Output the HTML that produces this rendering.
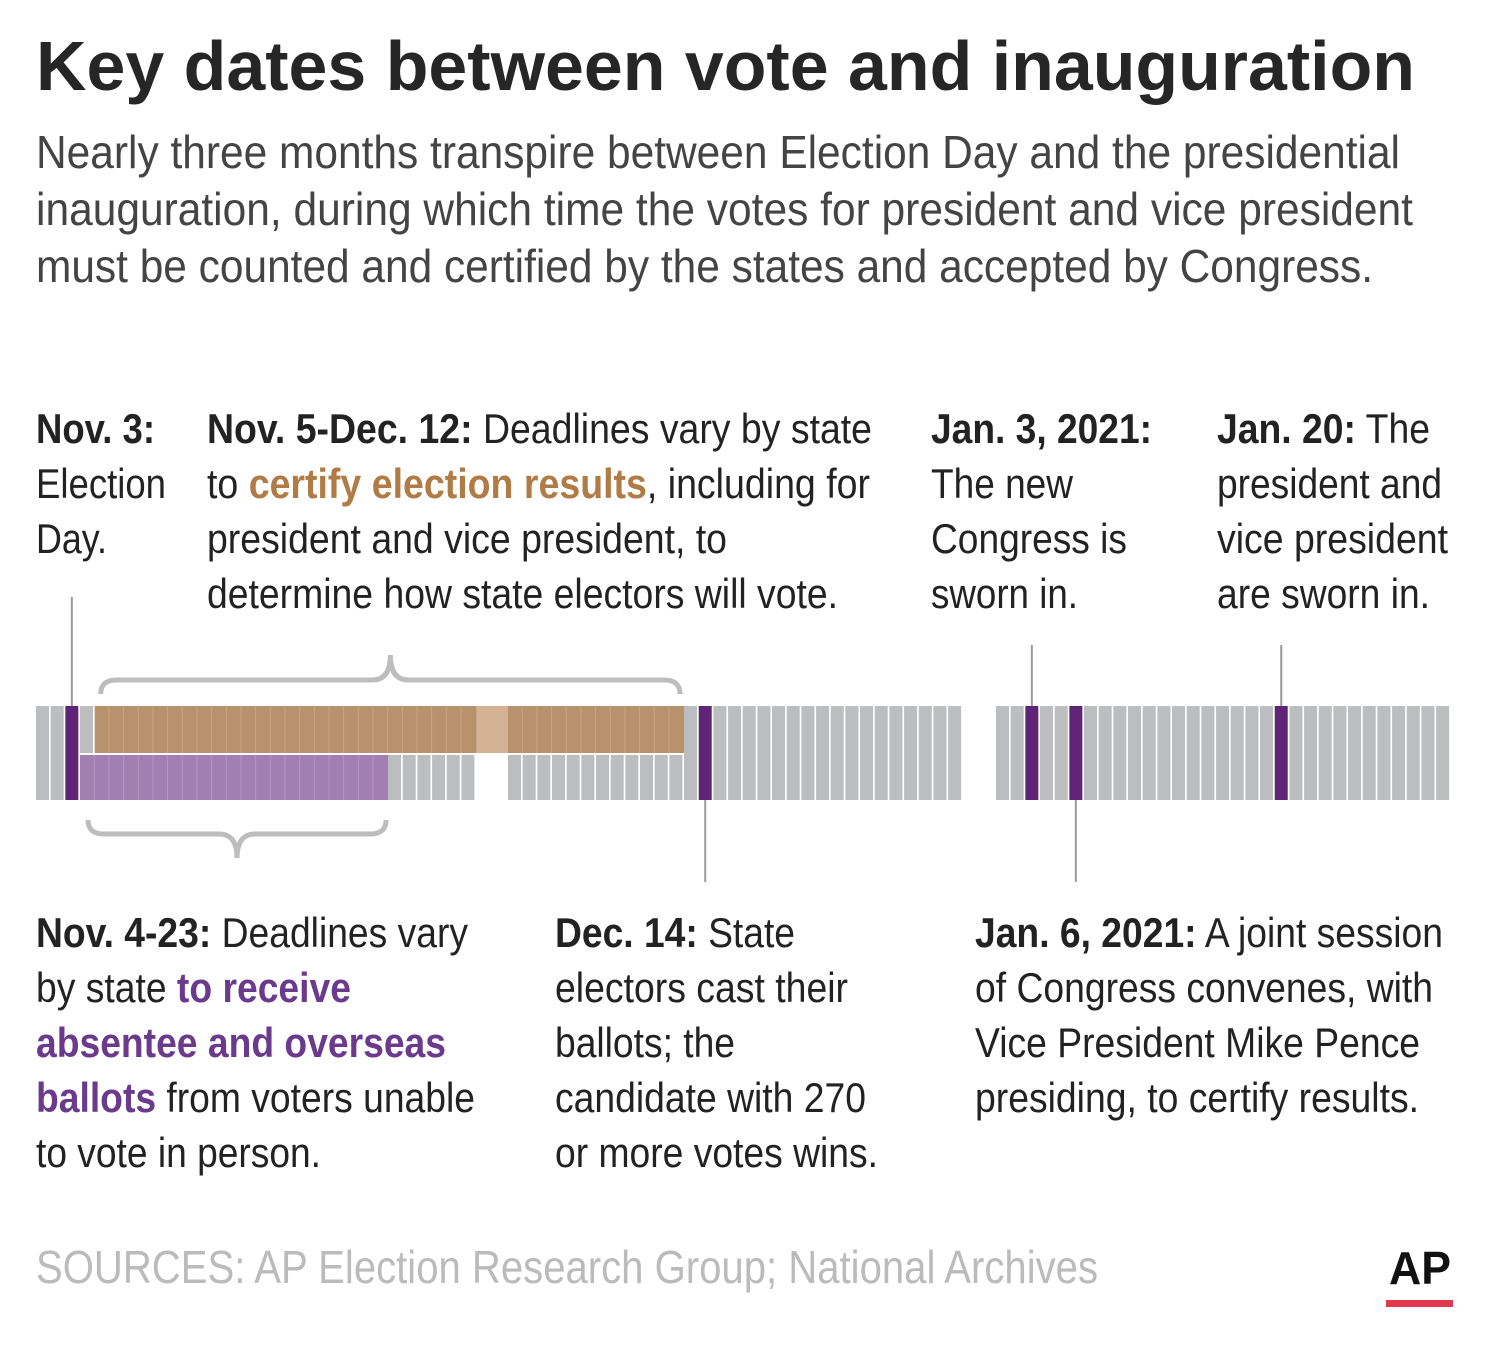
<!DOCTYPE html>
<html><head><meta charset="utf-8"><style>
html,body{margin:0;padding:0;background:#fff;}
svg{display:block;font-family:"Liberation Sans",sans-serif;}
.t{fill:#222;font-size:42px;}
.b{font-weight:bold;}
</style></head><body>
<svg id="chart" width="1500" height="1348" viewBox="0 0 1500 1348" xmlns="http://www.w3.org/2000/svg">
<text x="36" y="90" font-size="70" font-weight="bold" fill="#262626" textLength="1379" lengthAdjust="spacingAndGlyphs">Key dates between vote and inauguration</text>
<g font-size="46" fill="#444">
<text x="36" y="168" textLength="1364" lengthAdjust="spacingAndGlyphs">Nearly three months transpire between Election Day and the presidential</text>
<text x="36" y="225" textLength="1377" lengthAdjust="spacingAndGlyphs">inauguration, during which time the votes for president and vice president</text>
<text x="36" y="282" textLength="1337" lengthAdjust="spacingAndGlyphs">must be counted and certified by the states and accepted by Congress.</text>
</g>
<g id="timeline"></g>
<g class="t">
<text x="36" y="443" class="b" textLength="119" lengthAdjust="spacingAndGlyphs">Nov. 3:</text>
<text x="36" y="498" textLength="130" lengthAdjust="spacingAndGlyphs">Election</text>
<text x="36" y="553" textLength="71" lengthAdjust="spacingAndGlyphs">Day.</text>
</g>
<g class="t">
<text x="207" y="443" textLength="665" lengthAdjust="spacingAndGlyphs"><tspan class="b">Nov. 5-Dec. 12:</tspan> Deadlines vary by state</text>
<text x="207" y="498" textLength="663" lengthAdjust="spacingAndGlyphs">to <tspan class="b" fill="#b07b45">certify election results</tspan>, including for</text>
<text x="207" y="553" textLength="520" lengthAdjust="spacingAndGlyphs">president and vice president, to</text>
<text x="207" y="608" textLength="631" lengthAdjust="spacingAndGlyphs">determine how state electors will vote.</text>
</g>
<g class="t">
<text x="931" y="443" class="b" textLength="221" lengthAdjust="spacingAndGlyphs">Jan. 3, 2021:</text>
<text x="931" y="498" textLength="142" lengthAdjust="spacingAndGlyphs">The new</text>
<text x="931" y="553" textLength="196" lengthAdjust="spacingAndGlyphs">Congress is</text>
<text x="931" y="608" textLength="147" lengthAdjust="spacingAndGlyphs">sworn in.</text>
</g>
<g class="t">
<text x="1217" y="443" textLength="213" lengthAdjust="spacingAndGlyphs"><tspan class="b">Jan. 20:</tspan> The</text>
<text x="1217" y="498" textLength="225" lengthAdjust="spacingAndGlyphs">president and</text>
<text x="1217" y="553" textLength="231" lengthAdjust="spacingAndGlyphs">vice president</text>
<text x="1217" y="608" textLength="213" lengthAdjust="spacingAndGlyphs">are sworn in.</text>
</g>
<g class="t">
<text x="36" y="947" textLength="432" lengthAdjust="spacingAndGlyphs"><tspan class="b">Nov. 4-23:</tspan> Deadlines vary</text>
<text x="36" y="1002" textLength="315" lengthAdjust="spacingAndGlyphs">by state <tspan class="b" fill="#6b3a8c">to receive</tspan></text>
<text x="36" y="1057" class="b" fill="#6b3a8c" textLength="410" lengthAdjust="spacingAndGlyphs">absentee and overseas</text>
<text x="36" y="1112" textLength="439" lengthAdjust="spacingAndGlyphs"><tspan class="b" fill="#6b3a8c">ballots</tspan> from voters unable</text>
<text x="36" y="1167" textLength="285" lengthAdjust="spacingAndGlyphs">to vote in person.</text>
</g>
<g class="t">
<text x="555" y="947" textLength="240" lengthAdjust="spacingAndGlyphs"><tspan class="b">Dec. 14:</tspan> State</text>
<text x="555" y="1002" textLength="293" lengthAdjust="spacingAndGlyphs">electors cast their</text>
<text x="555" y="1057" textLength="180" lengthAdjust="spacingAndGlyphs">ballots; the</text>
<text x="555" y="1112" textLength="311" lengthAdjust="spacingAndGlyphs">candidate with 270</text>
<text x="555" y="1167" textLength="323" lengthAdjust="spacingAndGlyphs">or more votes wins.</text>
</g>
<g class="t">
<text x="975" y="947" textLength="468" lengthAdjust="spacingAndGlyphs"><tspan class="b">Jan. 6, 2021:</tspan> A joint session</text>
<text x="975" y="1002" textLength="458" lengthAdjust="spacingAndGlyphs">of Congress convenes, with</text>
<text x="975" y="1057" textLength="445" lengthAdjust="spacingAndGlyphs">Vice President Mike Pence</text>
<text x="975" y="1112" textLength="444" lengthAdjust="spacingAndGlyphs">presiding, to certify results.</text>
</g>
<text x="36" y="1283" font-size="46" fill="#bbbbbb" textLength="1062" lengthAdjust="spacingAndGlyphs">SOURCES: AP Election Research Group; National Archives</text>
<text x="1389" y="1284" font-size="46" font-weight="bold" fill="#111" textLength="62" lengthAdjust="spacingAndGlyphs">AP</text>
<rect x="1386" y="1300" width="67" height="7" fill="#e0384f"/>
</svg>
<script>
// months shown on timeline
const months = ["Nov", "Dec", "Jan"];
const monthDays = [30, 31, 31];
// key event dates [monthIndex, day]
const eventMonths = [0, 1, 2, 2, 2];
const eventDays = [3, 14, 3, 6, 20];
const eventNames = ["nov-3", "dec-14", "jan-3", "jan-6", "jan-20"];
const eventLineUp = [true, false, true, false, true];
// ranges [monthIndex, day] inclusive
const certifyStart = [0, 5], certifyEnd = [1, 12];
const absenteeStart = [0, 4], absenteeEnd = [0, 24];

const NS = "http://www.w3.org/2000/svg";
const g = document.getElementById("timeline");
const monthX = [36, 508, 996];
const pitch = 14.67, cw = 13;
const yTop = 706, yMid = 754, yBot = 800;
function xOf(m, d) { return monthX[m] + (d - 1) * pitch; }
function ord(m, d) { let o = 0; for (let i = 0; i < m; i++) o += monthDays[i]; return o + d; }
function inRange(m, d, s, e) { const o = ord(m, d); return o >= ord(s[0], s[1]) && o <= ord(e[0], e[1]); }
function rect(x, y, w, h, fill, name) {
  const r = document.createElementNS(NS, "rect");
  r.setAttribute("x", x); r.setAttribute("y", y); r.setAttribute("width", w); r.setAttribute("height", h); r.setAttribute("fill", fill);
  
  
  g.appendChild(r); return r;
}
function line(x, y1, y2, name) {
  const l = document.createElementNS(NS, "line");
  l.setAttribute("x1", x); l.setAttribute("x2", x); l.setAttribute("y1", y1); l.setAttribute("y2", y2);
  l.setAttribute("stroke", "#9a9a9a"); l.setAttribute("stroke-width", "2");
  
  
  g.appendChild(l);
}
// light tan between months where certify range spans
for (let m = 0; m < months.length - 1; m++) {
  const lastDay = monthDays[m];
  if (inRange(m, lastDay, certifyStart, certifyEnd) && inRange(m + 1, 1, certifyStart, certifyEnd)) {
    const x0 = xOf(m, lastDay) + pitch;
    rect(x0 - 1, yTop, monthX[m + 1] - x0 + 1, yMid - yTop - 1, "#d5b293", "certify-month-gap");
  }
}
for (let m = 0; m < months.length; m++) {
  for (let d = 1; d <= monthDays[m]; d++) {
    const x = xOf(m, d);
    const isEvent = eventMonths.some((em, i) => em === m && eventDays[i] === d);
    const cert = inRange(m, d, certifyStart, certifyEnd);
    const abs = inRange(m, d, absenteeStart, absenteeEnd);
    if (isEvent) { rect(x, yTop, cw, yBot - yTop, "#5e2577", "event-day-" + months[m].toLowerCase() + "-" + d); continue; }
    if (!cert && !abs) { rect(x, yTop, cw, yBot - yTop, "#bcbdbf", "day-" + months[m].toLowerCase() + "-" + d); continue; }
    if (cert) rect(x, yTop, pitch + 0.2, yMid - yTop - 1, "#b8916d", "certify-day-" + months[m].toLowerCase() + "-" + d);
    else rect(x, yTop, cw, yMid - yTop - 1, "#bcbdbf", "day-top-" + months[m].toLowerCase() + "-" + d);
    if (abs) rect(x, yMid + 1, pitch + 0.2, yBot - yMid - 1, "#a27fb1", "absentee-day-" + months[m].toLowerCase() + "-" + d);
    else rect(x, yMid + 1, cw, yBot - yMid - 1, "#bcbdbf", "day-bottom-" + months[m].toLowerCase() + "-" + d);
    if (cert && inRange(m, d + 1, certifyStart, certifyEnd) && d < monthDays[m]) rect(x + pitch - 0.8, yTop, 1, yMid - yTop - 1, "#d2a982", "certify-separator");
    if (abs && inRange(m, d + 1, absenteeStart, absenteeEnd) && d < monthDays[m]) rect(x + pitch - 0.8, yMid + 1, 1, yBot - yMid - 1, "#b99ac6", "absentee-separator");
  }
}
// leader lines
for (let i = 0; i < eventNames.length; i++) {
  const x = xOf(eventMonths[i], eventDays[i]) + cw / 2;
  if (eventLineUp[i]) line(x, eventNames[i] === "nov-3" ? 597 : 645, yTop, "leader-" + eventNames[i]);
  else line(x, yBot, 882, "leader-" + eventNames[i]);
}
// braces
function brace(x1, x2, yEdge, yTip, name) {
  const xm = (x1 + x2) / 2, dir = yTip < yEdge ? -1 : 1;
  const ym = yEdge + dir * 14;
  const p = document.createElementNS(NS, "path");
  p.setAttribute("d", `M${x1},${yEdge} Q${x1},${ym} ${x1 + 16},${ym} L${xm - 18},${ym} Q${xm},${ym} ${xm},${yTip} Q${xm},${ym} ${xm + 18},${ym} L${x2 - 16},${ym} Q${x2},${ym} ${x2},${yEdge}`);
  p.setAttribute("fill", "none"); p.setAttribute("stroke", "#bdbdbd"); p.setAttribute("stroke-width", "5");
  
  
  g.appendChild(p);
}
const cx1 = xOf(certifyStart[0], certifyStart[1]) + 6, cx2 = xOf(certifyEnd[0], certifyEnd[1]) + pitch - 4;
brace(cx1, cx2, 694, 655, "certify-brace");
const ax1 = xOf(absenteeStart[0], absenteeStart[1]) + 8, ax2 = xOf(absenteeEnd[0], absenteeEnd[1]) + pitch - 2;
brace(ax1, ax2, 820, 858, "absentee-brace");
</script>
</body></html>
